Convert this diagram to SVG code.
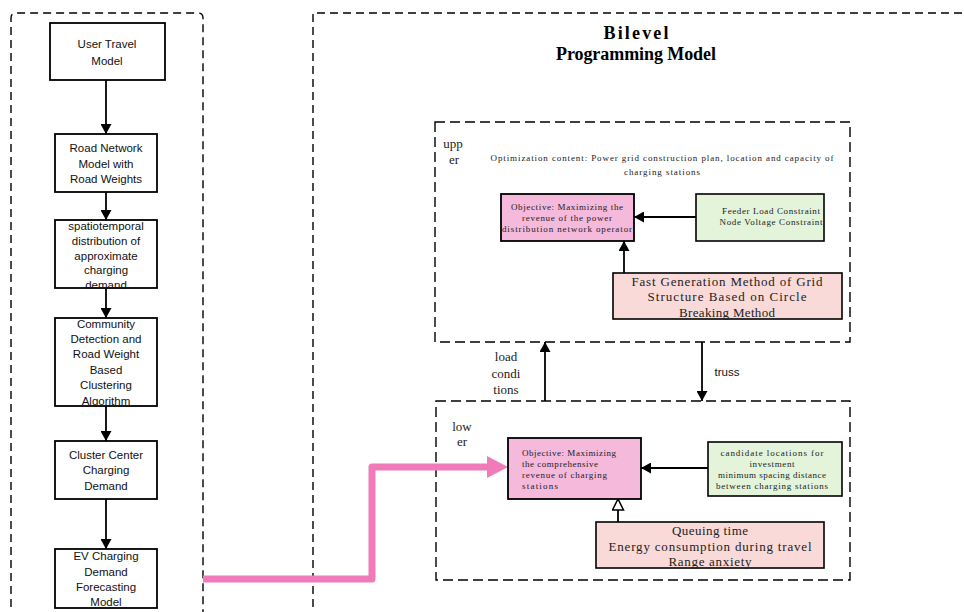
<svg xmlns="http://www.w3.org/2000/svg" width="964" height="612" viewBox="0 0 964 612">
<defs>
<style>
.dash{fill:none;stroke:#000;stroke-width:1.4;stroke-dasharray:8 5}
.dash2{fill:none;stroke:#000;stroke-width:1.4;stroke-dasharray:10 5}
.box{fill:#fff;stroke:#000;stroke-width:1.8}
.pink{fill:#f5b9dc;stroke:#000;stroke-width:1.8}
.green{fill:#e3f4da;stroke:#000;stroke-width:1.6}
.salmon{fill:#f9dad8;stroke:#000;stroke-width:1.6}
.sans{font-family:"Liberation Sans",Arial,sans-serif;font-size:11.5px;fill:#111;text-anchor:middle}
.ser{font-family:"Liberation Serif","Times New Roman",serif;fill:#222}
.s9{font-size:9px}
.s13{font-size:13px}
.mid{text-anchor:middle}
.title{font-family:"Liberation Serif","Times New Roman",serif;font-size:18px;font-weight:bold;text-anchor:middle;fill:#000}
.conn{stroke:#000;stroke-width:1.8;fill:none}
</style>
<marker id="ah" markerWidth="11" markerHeight="11" refX="10" refY="5.5" orient="auto" markerUnits="userSpaceOnUse">
<path d="M0,0 L10,5.5 L0,11 z" fill="#000"/>
</marker>
<marker id="ahh" markerWidth="14" markerHeight="14" refX="12" refY="6.5" orient="auto" markerUnits="userSpaceOnUse">
<path d="M1,1 L12,6.5 L1,12 z" fill="#fff" stroke="#000" stroke-width="1.5"/>
</marker>
</defs>

<g id="frames">
<path class="dash" d="M11,620 V18 Q11,13 16,13 H198 Q203,13 203,18 V620"/>
<path class="dash" d="M313,620 V13 H970"/>
<rect class="dash2" x="435" y="122" width="415" height="220"/>
<rect class="dash2" x="436" y="401" width="414" height="179"/>
</g>

<g id="title">
<text class="title" x="636" y="39" textLength="65">Bilevel</text>
<text class="title" x="636" y="60" textLength="160">Programming Model</text>
</g>

<g id="connectors">
<line class="conn" x1="106" y1="80" x2="106" y2="134" marker-end="url(#ah)"/>
<line class="conn" x1="106" y1="192" x2="106" y2="220" marker-end="url(#ah)"/>
<line class="conn" x1="106" y1="288" x2="106" y2="318" marker-end="url(#ah)"/>
<line class="conn" x1="106" y1="406" x2="106" y2="441" marker-end="url(#ah)"/>
<line class="conn" x1="106" y1="499" x2="106" y2="549" marker-end="url(#ah)"/>
<line class="conn" x1="696" y1="217" x2="634" y2="217" marker-end="url(#ah)"/>
<line class="conn" x1="624" y1="273" x2="624" y2="241" marker-end="url(#ah)"/>
<line class="conn" x1="545" y1="401" x2="545" y2="342" marker-end="url(#ah)"/>
<line class="conn" x1="702" y1="342" x2="702" y2="401" marker-end="url(#ah)"/>
<line class="conn" x1="708" y1="468" x2="641" y2="468" marker-end="url(#ah)"/>
<line class="conn" x1="618" y1="522" x2="618" y2="499" marker-end="url(#ahh)"/>
<path d="M203,579 H372 V467 H489" fill="none" stroke="#ef7bb8" stroke-width="7" stroke-linejoin="round"/>
<polygon points="487,456 508,467 487,478" fill="#ef7bb8"/>
</g>

<g id="labels">
<text class="ser s13 mid" x="506" y="361">load</text>
<text class="ser s13 mid" x="506" y="378">condi</text>
<text class="ser s13 mid" x="506" y="394">tions</text>
<text class="sans" x="727" y="376">truss</text>
</g>

<g id="n1"><rect class="box" x="50" y="23" width="115" height="57"/>
<text class="sans" x="107" y="48">User Travel</text><text class="sans" x="107" y="65">Model</text></g>

<g id="n2"><rect class="box" x="55" y="134" width="102" height="58"/>
<text class="sans" x="106" y="152">Road Network</text><text class="sans" x="106" y="168">Model with</text><text class="sans" x="106" y="183">Road Weights</text></g>

<g id="n3"><rect class="box" x="55" y="220" width="102" height="68"/>
<text class="sans" x="106" y="230">spatiotemporal</text><text class="sans" x="106" y="245">distribution of</text><text class="sans" x="106" y="260">approximate</text><text class="sans" x="106" y="274">charging</text><text class="sans" x="106" y="289">demand</text></g>

<g id="n4"><rect class="box" x="55" y="318" width="102" height="88"/>
<text class="sans" x="106" y="328">Community</text><text class="sans" x="106" y="343">Detection and</text><text class="sans" x="106" y="358">Road Weight</text><text class="sans" x="106" y="374">Based</text><text class="sans" x="106" y="389">Clustering</text><text class="sans" x="106" y="405">Algorithm</text></g>

<g id="n5"><rect class="box" x="55" y="441" width="102" height="58"/>
<text class="sans" x="106" y="459">Cluster Center</text><text class="sans" x="106" y="474">Charging</text><text class="sans" x="106" y="490">Demand</text></g>

<g id="n6"><rect class="box" x="55" y="549" width="102" height="59"/>
<text class="sans" x="106" y="560">EV Charging</text><text class="sans" x="106" y="576">Demand</text><text class="sans" x="106" y="591">Forecasting</text><text class="sans" x="106" y="606">Model</text></g>

<g id="upper">
<text class="ser s13 mid" x="453" y="148">upp</text>
<text class="ser s13 mid" x="454" y="164">er</text>
<text class="ser s9 mid" x="662" y="161" textLength="343">Optimization content: Power grid construction plan, location and capacity of</text>
<text class="ser s9 mid" x="662" y="175" textLength="76">charging stations</text>
</g>

<g id="upper-objective"><rect class="pink" x="501" y="194" width="133" height="47"/>
<text class="ser s9 mid" x="567" y="210" textLength="112">Objective: Maximizing the</text>
<text class="ser s9 mid" x="567" y="221" textLength="90">revenue of the power</text>
<text class="ser s9 mid" x="567" y="232" textLength="130">distribution network operator</text></g>

<g id="upper-constraints"><rect class="green" x="696" y="194" width="128" height="47"/>
<text class="ser s9 mid" x="771" y="214" textLength="98">Feeder Load Constraint</text>
<text class="ser s9 mid" x="771" y="225" textLength="103">Node Voltage Constraint</text></g>

<g id="upper-method"><rect class="salmon" x="613" y="273" width="229" height="46"/>
<text class="ser s13 mid" x="727" y="286" textLength="191">Fast Generation Method of Grid</text>
<text class="ser s13 mid" x="727" y="301" textLength="159">Structure Based on Circle</text>
<text class="ser s13 mid" x="727" y="317" textLength="96">Breaking Method</text></g>

<g id="lower">
<text class="ser s13 mid" x="462" y="431">low</text>
<text class="ser s13 mid" x="462" y="446">er</text>
</g>

<g id="lower-objective"><rect class="pink" x="508" y="438" width="133" height="61"/>
<text class="ser s9" x="522" y="456" textLength="94">Objective: Maximizing</text>
<text class="ser s9" x="522" y="467" textLength="76">the comprehensive</text>
<text class="ser s9" x="522" y="478" textLength="85">revenue of charging</text>
<text class="ser s9" x="522" y="489" textLength="36">stations</text></g>

<g id="lower-constraints"><rect class="green" x="708" y="442" width="134" height="54"/>
<text class="ser s9 mid" x="772" y="456" textLength="103">candidate locations for</text>
<text class="ser s9 mid" x="772" y="467" textLength="45">investment</text>
<text class="ser s9 mid" x="772" y="478" textLength="108">minimum spacing distance</text>
<text class="ser s9 mid" x="772" y="489" textLength="112">between charging stations</text></g>

<g id="lower-factors"><rect class="salmon" x="596" y="522" width="228" height="46"/>
<text class="ser s13 mid" x="710" y="535" textLength="76">Queuing time</text>
<text class="ser s13 mid" x="710" y="551" textLength="203">Energy consumption during travel</text>
<text class="ser s13 mid" x="710" y="566" textLength="83">Range anxiety</text></g>
</svg>
